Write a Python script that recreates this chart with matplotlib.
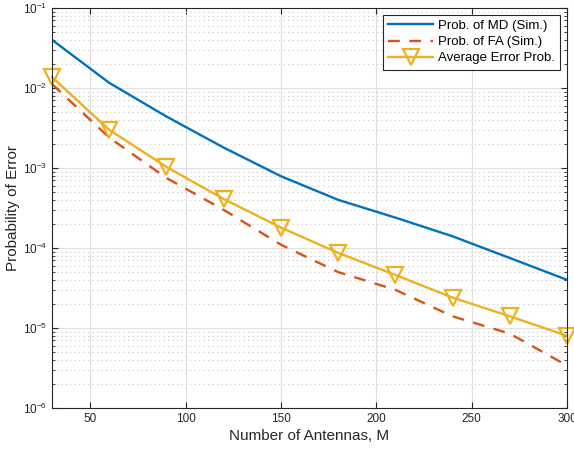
import matplotlib.pyplot as plt
from matplotlib.ticker import LogLocator, FixedLocator, NullFormatter

plt.rcParams['font.family'] = ['Liberation Sans', 'DejaVu Sans']
plt.rcParams['mathtext.fontset'] = 'custom'
plt.rcParams['mathtext.rm'] = 'Liberation Sans'
plt.rcParams['mathtext.it'] = 'Liberation Sans'

# numero di antenne
antenne = [30, 60, 90, 120, 150, 180, 210, 240, 270, 300]

# probabilità simulate
prob_md = [4.0e-2, 1.16e-2, 4.4e-3, 1.8e-3, 7.9e-4, 4.0e-4, 2.4e-4, 1.4e-4, 7.5e-5, 4.0e-5]
prob_fa = [1.12e-2, 2.4e-3, 7.5e-4, 3.0e-4, 1.1e-4, 5.0e-5, 3.0e-5, 1.4e-5, 8.5e-6, 3.4e-6]
prob_media = [1.37e-2, 3.0e-3, 1.03e-3, 4.1e-4, 1.8e-4, 8.7e-5, 4.6e-5, 2.4e-5, 1.4e-5, 8.0e-6]

fig = plt.figure(figsize=(5.74, 4.5), dpi=100)
ax = fig.add_axes([52 / 574, 42 / 450, 515 / 574, 400 / 450])

ax.semilogy(antenne, prob_md, '-', color='#0072BD', lw=1.7, label='Prob. of MD (Sim.)')
ax.semilogy(antenne, prob_fa, '--', color='#D95319', lw=1.7, dashes=(5, 4),
            label='Prob. of FA (Sim.)')
ax.semilogy(antenne, prob_media, '-', color='#EDB120', lw=1.7, marker='v',
            markersize=11, markerfacecolor='none', markeredgewidth=1.6,
            label='Average Error Prob.', clip_on=False)

ax.set_xlim(30, 300)
ax.set_ylim(1e-6, 1e-1)
ax.set_xticks([50, 100, 150, 200, 250, 300])
ax.yaxis.set_major_locator(FixedLocator([1e-6, 1e-5, 1e-4, 1e-3, 1e-2, 1e-1]))
ax.yaxis.set_minor_locator(LogLocator(base=10, subs=range(2, 10), numticks=20))
ax.yaxis.set_minor_formatter(NullFormatter())

ax.grid(True, which='major', color='#e0e0e0', lw=0.8)
ax.grid(True, which='minor', axis='y', color='#c8c8c8', lw=0.8, linestyle=(0, (1, 3)))
ax.set_axisbelow(True)

ax.tick_params(which='both', direction='in', top=True, right=True, labelsize=8.5,
               colors='#262626', labelcolor='#262626')
ax.tick_params(which='major', length=4)
ax.tick_params(which='minor', length=2.5)
for s in ax.spines.values():
    s.set_color('#262626')
    s.set_linewidth(0.8)

ax.set_xlabel('Number of Antennas, M', fontsize=11, color='#262626', labelpad=3)
ax.set_ylabel('Probability of Error', fontsize=11, color='#262626', labelpad=2)

leg = ax.legend(loc='upper right', fontsize=9.5, fancybox=False, framealpha=1,
                edgecolor='#262626', handlelength=3.4, borderpad=0.4,
                labelspacing=0.3, handletextpad=0.4, borderaxespad=0.5,
                bbox_to_anchor=(1.0, 1.0))
leg.get_frame().set_linewidth(0.8)

fig.savefig('out.png', dpi=100)
